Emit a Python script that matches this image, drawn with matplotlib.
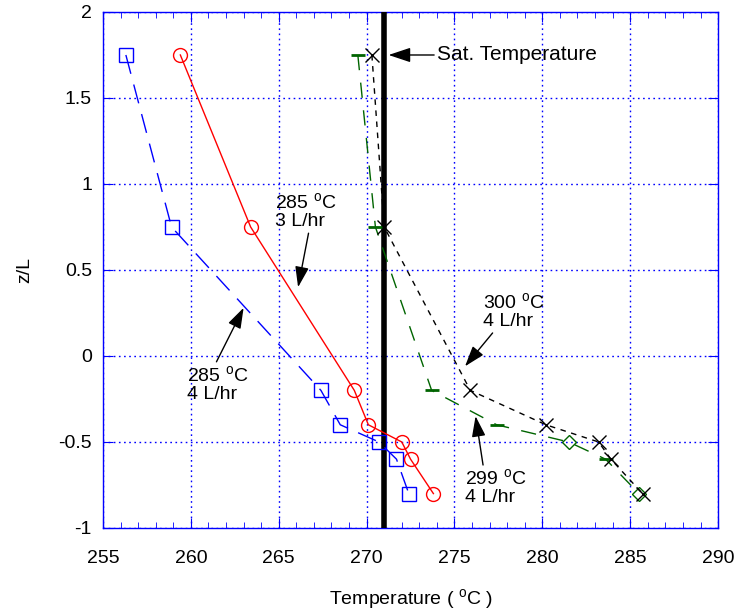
import matplotlib
matplotlib.use("Agg")
import matplotlib.pyplot as plt
from matplotlib.ticker import MultipleLocator

plt.rcParams['font.family'] = ['Liberation Sans', 'DejaVu Sans']
plt.rcParams['mathtext.fontset'] = 'custom'
plt.rcParams['mathtext.rm'] = 'Liberation Sans'
plt.rcParams['mathtext.it'] = 'Liberation Sans'

# Axial positions (z/L) shared by all runs
z = [1.75, 0.75, -0.2, -0.4, -0.5, -0.6, -0.8]

# Temperature profiles for each run (deg C)
t_285_4 = [256.3, 258.9, 267.4, 268.5, 270.7, 271.7, 272.4]
t_285_3 = [259.4, 263.4, 269.3, 270.1, 272.0, 272.5, 273.8]
t_300_4 = [270.3, 271.0, 275.9, 280.2, 283.2, 283.9, 285.7]
t_299_4 = [269.5, 270.5, 273.7, 277.4, 281.5, 283.6, 285.5]

t_sat = 271.0

fig = plt.figure(figsize=(7.38, 6.15), dpi=100)
ax = fig.add_axes([0.1396, 0.1415, 0.8334, 0.839])

ax.set_xlim(255, 290)
ax.set_ylim(-1, 2)
ax.xaxis.set_major_locator(MultipleLocator(5))
ax.xaxis.set_minor_locator(MultipleLocator(1))
ax.set_yticks([-1, -0.5, 0, 0.5, 1, 1.5, 2])
ax.set_yticklabels(['-1', '-0.5', '0', '0.5', '1', '1.5', '2'])

ax.grid(True, which='major', color='blue', linestyle=(0, (1.2, 2.5)), linewidth=1.0)
for s in ax.spines.values():
    s.set_color('blue')
    s.set_linewidth(1.0)
ax.tick_params(which='both', direction='in', top=True, right=True, color='blue',
               labelsize=14)
ax.tick_params(which='major', length=7)
ax.tick_params(which='minor', length=4)
ax.tick_params(axis='x', pad=16)
ax.tick_params(axis='y', pad=8)

# Saturation temperature
ax.axvline(t_sat, color='black', linewidth=4, zorder=3)

ax.plot(t_285_4, z, color='blue', linestyle=(0, (14, 8)), linewidth=1.0,
        marker='s', markersize=10, markerfacecolor='none', markeredgecolor='blue',
        markeredgewidth=1.0, zorder=4)
ax.plot(t_285_3, z, color='red', linestyle='-', linewidth=1.0,
        marker='o', markersize=10, markerfacecolor='none', markeredgecolor='red',
        markeredgewidth=1.0, zorder=4)
ax.plot(t_299_4, z, color='#006400', linestyle=(0, (11, 9)), linewidth=1.0,
        marker='D', markevery=[4, 6], markersize=7, markerfacecolor='none',
        markeredgecolor='#006400', markeredgewidth=1.0, zorder=4)
ax.plot([t_299_4[i] for i in (0, 1, 2, 3, 5)], [z[i] for i in (0, 1, 2, 3, 5)],
        linestyle='none', marker='_', markersize=10, markeredgewidth=2.0,
        color='#006400', zorder=4)
ax.plot(t_300_4, z, color='black', linestyle=(0, (4, 4)), linewidth=1.0,
        marker='x', markersize=10, markeredgewidth=1.0, zorder=5)

arrow = dict(arrowstyle='-|>,head_length=0.9,head_width=0.3', color='black',
             linewidth=1.0, shrinkA=0, shrinkB=0)

ax.annotate('Sat. Temperature', xy=(271.25, 1.75), xytext=(274.0, 1.75),
            fontsize=15, va='center', ha='left', arrowprops=arrow)
ax.annotate('285 $^{\\mathrm{o}}$C\n3 L/hr', xy=(266.1, 0.40), xytext=(264.8, 0.73),
            fontsize=14, va='bottom', ha='left', linespacing=1.1,
            arrowprops=dict(arrow, relpos=(0.55, 0.0)))
ax.annotate('285 $^{\\mathrm{o}}$C\n4 L/hr', xy=(263.0, 0.28), xytext=(259.8, -0.05),
            fontsize=14, va='top', ha='left', linespacing=1.1,
            arrowprops=dict(arrow, relpos=(0.45, 1.0)))
ax.annotate('300 $^{\\mathrm{o}}$C\n4 L/hr', xy=(275.6, -0.06), xytext=(276.6, 0.15),
            fontsize=14, va='bottom', ha='left', linespacing=1.1,
            arrowprops=dict(arrow, relpos=(0.2, 0.0)))
ax.annotate('299 $^{\\mathrm{o}}$C\n4 L/hr', xy=(276.2, -0.35), xytext=(275.6, -0.65),
            fontsize=14, va='top', ha='left', linespacing=1.1,
            arrowprops=dict(arrow, relpos=(0.3, 1.0)))

ax.set_xlabel('Temperature ( $^{\\mathrm{o}}$C )', fontsize=14, labelpad=14)
ax.set_ylabel('z/L', fontsize=14, labelpad=18)

fig.savefig('out.png', dpi=100)
